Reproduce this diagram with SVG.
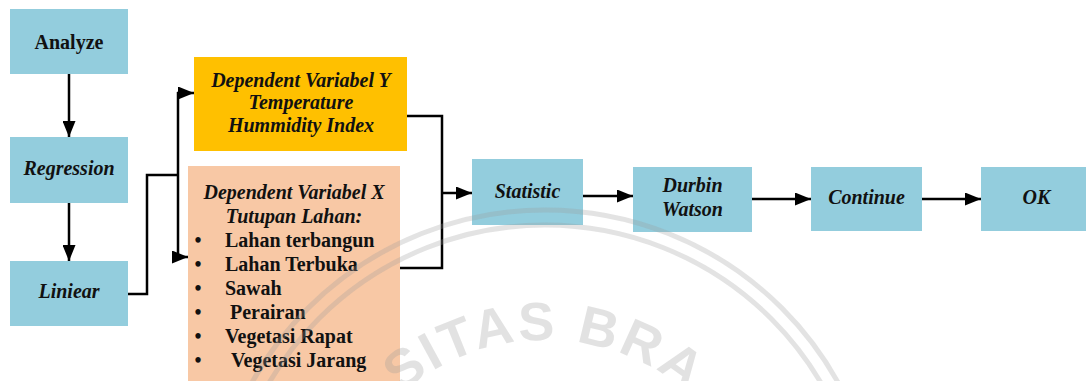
<svg xmlns="http://www.w3.org/2000/svg" width="1086" height="381" viewBox="0 0 1086 381">
  <style>
    .box { fill: #93CDDD; }
    .yel { fill: #FFC000; }
    .peach { fill: #F8C8A5; }
    .t { font-family: "Liberation Serif", "Times New Roman", serif; font-size: 20px; font-weight: bold; fill: #111; }
    .i { font-style: italic; }
    .c { text-anchor: middle; }
    .wire { fill: none; stroke: #000; stroke-width: 2.5; }
    .ring { fill: none; stroke: #9a9a9a; stroke-width: 5; opacity: 0.28; }
    .mark { font-family: "Liberation Sans", Arial, sans-serif; font-size: 54px; font-weight: bold; fill: #9a9a9a; opacity: 0.28; letter-spacing: 3px; }
  </style>
  <defs>
    <marker id="arrow" markerUnits="userSpaceOnUse" markerWidth="17" markerHeight="13" refX="16" refY="6.5" orient="auto">
      <path d="M0,0 L16,6.5 L0,13 z" fill="#000"/>
    </marker>
    <path id="sealText" d="M325,560 A220,220 0 0 1 765,560"/>
  </defs>

  <rect width="1086" height="381" fill="#fff"/>

  <!-- nodes -->
  <g id="analyze">
    <rect class="box" x="10" y="9" width="118" height="65"/>
    <text class="t c" x="69" y="49">Analyze</text>
  </g>
  <g id="regression">
    <rect class="box" x="10" y="137" width="118" height="66"/>
    <text class="t i c" x="69" y="175">Regression</text>
  </g>
  <g id="liniear">
    <rect class="box" x="10" y="261" width="118" height="65"/>
    <text class="t i c" x="69" y="298">Liniear</text>
  </g>
  <g id="var-y">
    <rect class="yel" x="194" y="57" width="213" height="94"/>
    <text class="t i c" x="301" y="87">Dependent Variabel Y</text>
    <text class="t i c" x="301" y="109">Temperature</text>
    <text class="t i c" x="301" y="132">Hummidity Index</text>
  </g>
  <g id="var-x">
    <rect class="peach" x="188" y="166" width="212" height="220"/>
    <text class="t i c" x="294" y="199">Dependent Variabel X</text>
    <text class="t i c" x="294" y="223">Tutupan Lahan:</text>
    <g class="t c">
      <text x="198" y="247">•</text>
      <text x="198" y="271">•</text>
      <text x="198" y="295">•</text>
      <text x="198" y="319">•</text>
      <text x="198" y="343">•</text>
      <text x="198" y="367">•</text>
    </g>
    <text class="t" x="225" y="247">Lahan terbangun</text>
    <text class="t" x="225" y="271">Lahan Terbuka</text>
    <text class="t" x="225" y="295">Sawah</text>
    <text class="t" x="230" y="319">Perairan</text>
    <text class="t" x="225" y="343">Vegetasi Rapat</text>
    <text class="t" x="231" y="367">Vegetasi Jarang</text>
  </g>
  <g id="statistic">
    <rect class="box" x="472" y="159" width="111" height="66"/>
    <text class="t i c" x="527.5" y="198">Statistic</text>
  </g>
  <g id="durbin-watson">
    <rect class="box" x="633" y="167" width="119" height="65"/>
    <text class="t i c" x="692.5" y="192">Durbin</text>
    <text class="t i c" x="692.5" y="216">Watson</text>
  </g>
  <g id="continue">
    <rect class="box" x="811" y="167" width="111" height="64"/>
    <text class="t i c" x="866.5" y="204">Continue</text>
  </g>
  <g id="ok">
    <rect class="box" x="981" y="167" width="111" height="64"/>
    <text class="t i c" x="1036.5" y="204">OK</text>
  </g>

  <!-- connectors -->
  <g id="connectors">
    <line class="wire" x1="69" y1="74" x2="69" y2="137" marker-end="url(#arrow)"/>
    <line class="wire" x1="69" y1="203" x2="69" y2="261" marker-end="url(#arrow)"/>
    <polyline class="wire" points="128,294 147,294 147,175 178,175"/>
    <line class="wire" x1="178" y1="92" x2="178" y2="258"/>
    <line class="wire" x1="177" y1="93" x2="194" y2="93" marker-end="url(#arrow)"/>
    <line class="wire" x1="177" y1="257" x2="188" y2="257" marker-end="url(#arrow)"/>
    <polyline class="wire" points="407,116 442,116 442,268 400,268"/>
    <line class="wire" x1="442" y1="193" x2="472" y2="193" marker-end="url(#arrow)"/>
    <line class="wire" x1="583" y1="196" x2="633" y2="196" marker-end="url(#arrow)"/>
    <line class="wire" x1="752" y1="199" x2="811" y2="199" marker-end="url(#arrow)"/>
    <line class="wire" x1="922" y1="199" x2="981" y2="199" marker-end="url(#arrow)"/>
  </g>

  <!-- faint seal watermark -->
  <g id="seal">
    <circle class="ring" cx="545" cy="545" r="335"/>
    <circle class="ring" cx="545" cy="545" r="320"/>
    <text class="mark"><textPath href="#sealText" startOffset="188">SITAS BRA</textPath></text>
  </g>
</svg>
